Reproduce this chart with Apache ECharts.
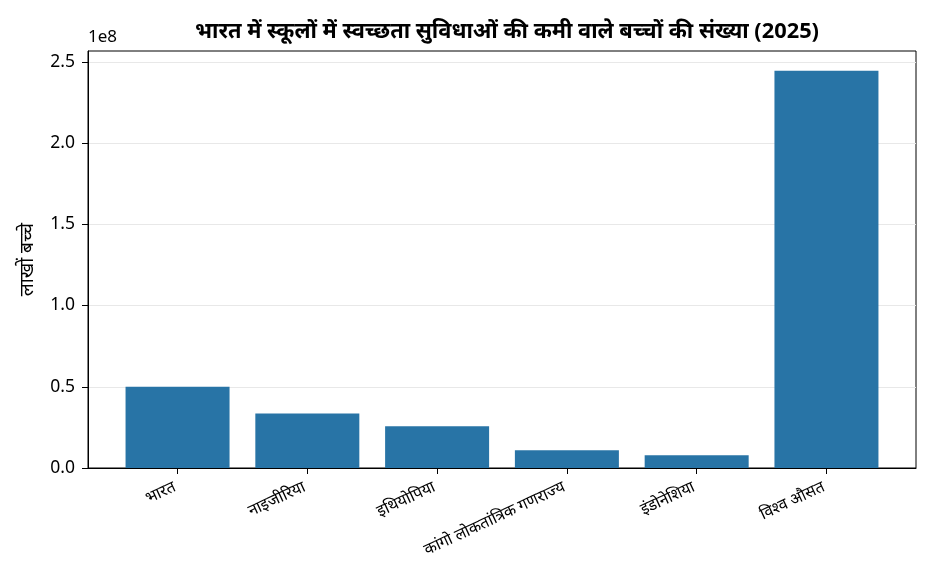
<!DOCTYPE html>
<html>
<head>
<meta charset="utf-8">
<script src="https://cdn.jsdelivr.net/npm/echarts@6/dist/echarts.min.js"></script>
<style>
html,body{margin:0;padding:0;background:#fff;}
#chart{width:936px;height:572px;}
</style>
</head>
<body>
<div id="chart"></div>
<script>
const categories = ['भारत', 'नाइजीरिया', 'इथियोपिया', 'कांगो लोकतांत्रिक गणराज्य', 'इंडोनेशिया', 'विश्व औसत'];
const values = [50000000, 33600000, 25700000, 10900000, 7800000, 244400000];
const yTicks = [0, 50000000, 100000000, 150000000, 200000000, 250000000];
const titleText = 'भारत में स्कूलों में स्वच्छता सुविधाओं की कमी वाले बच्चों की संख्या (2025)';
const yAxisName = 'लाखों बच्चे';
const offsetText = '1e8';

const FONT = '"Noto Sans", "Noto Sans Devanagari", "DejaVu Sans", sans-serif';
const chart = echarts.init(document.getElementById('chart'));
const idx = categories.map((c, i) => i);
const yMax = Math.max(...values) * 1.05;

chart.setOption({
  animation: false,
  backgroundColor: '#ffffff',
  title: {
    text: titleText,
    left: 502,
    textAlign: 'center',
    top: 16,
    textStyle: { fontFamily: FONT, fontSize: 21.8, fontWeight: 'bold', color: '#000' }
  },
  graphic: [{
    type: 'text',
    left: 88,
    top: 29,
    style: { text: offsetText, font: '17px ' + FONT, fill: '#000' }
  }],
  grid: {
    left: 88, right: 20, top: 51, bottom: 104,
    show: true, borderColor: '#000', borderWidth: 1, backgroundColor: 'transparent'
  },
  xAxis: {
    type: 'value',
    min: -0.69,
    max: 5.69,
    axisLine: { show: true, onZero: false, lineStyle: { color: '#000', width: 1 } },
    axisTick: { show: true, length: 6, lineStyle: { color: '#000' }, customValues: idx },
    axisLabel: {
      customValues: idx,
      rotate: 25,
      margin: 17,
      padding: [0, 3, 0, 0],
      fontFamily: FONT,
      fontSize: 16,
      color: '#000',
      formatter: v => categories[Math.round(v)]
    },
    splitLine: { show: false }
  },
  yAxis: {
    type: 'value',
    min: 0,
    max: yMax,
    name: yAxisName,
    nameLocation: 'middle',
    nameGap: 51,
    nameTextStyle: { fontFamily: FONT, fontSize: 19, color: '#000' },
    axisLine: { show: true, onZero: false, lineStyle: { color: '#000', width: 1 } },
    axisTick: { show: true, length: 6, lineStyle: { color: '#000' }, customValues: yTicks },
    axisLabel: {
      customValues: yTicks,
      margin: 13,
      fontFamily: FONT,
      fontSize: 17.5,
      color: '#000',
      formatter: v => (v / 1e8).toFixed(1)
    },
    interval: 50000000,
    splitLine: { show: true, lineStyle: { color: '#e8e8e8', width: 1 } }
  },
  series: [{
    type: 'bar',
    data: values.map((v, i) => [i, v]),
    barWidth: 104,
    itemStyle: { color: '#2874a6' }
  }]
});
</script>
</body>
</html>
